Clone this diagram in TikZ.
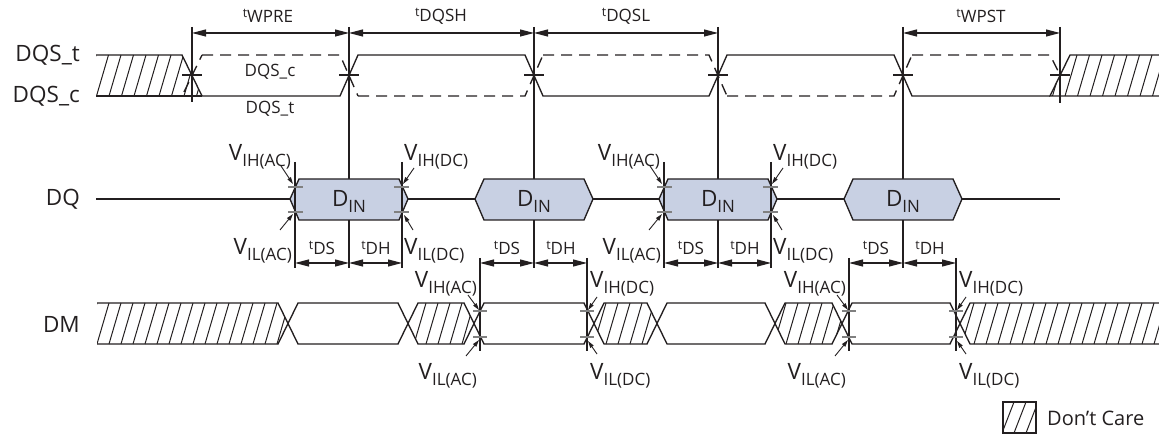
\documentclass[tikz,border=0pt]{standalone}
\usepackage{fontspec}
\setmainfont{Open Sans}
\usetikzlibrary{arrows.meta}
\definecolor{lc}{HTML}{231F20}
\definecolor{boxfill}{HTML}{C8D0E3}
\definecolor{tickgray}{HTML}{808080}
\newcommand{\bigfs}{\fontsize{22.5}{24}\selectfont}
\newcommand{\midfs}{\fontsize{17}{19}\selectfont}
\newcommand{\supfs}{\fontsize{12.5}{14}\selectfont}
\newcommand{\vsub}[1]{{\bigfs V\raisebox{-6pt}{\midfs #1}}}
\newcommand{\tsup}[1]{{\raisebox{5pt}{\supfs t}\midfs #1}}
\newcommand{\dinlab}{{\bigfs D\raisebox{-6pt}{\midfs IN}}}
\tikzset{
  sig/.style={draw=lc, line width=1.35pt, line join=miter},
  dsig/.style={sig, dash pattern=on 11pt off 7pt},
  guide/.style={draw=lc, line width=1.1pt},
  dim/.style={draw=lc, line width=1.1pt, {Triangle[length=14pt,width=7pt]}-{Triangle[length=14pt,width=7pt]}},
  ptr/.style={draw=lc, line width=0.9pt, -{Triangle[length=7pt,width=4pt]}},
  hatchl/.style={draw=lc, line width=1pt},
  lvl/.style={draw=tickgray, line width=1.1pt},
  lbl/.style={inner sep=0pt, text=lc},
  dinbox/.style={sig, fill=boxfill},
  crs/.style={draw=lc, line width=1.1pt},
}
\begin{document}
\begin{tikzpicture}[x=1pt,y=-1pt]
\useasboundingbox (0,0) rectangle (1159,438);

% ---------- signal names ----------
\node[lbl, anchor=east] (nDQSt) at (80,55) {\bigfs DQS\_t};
\node[lbl, anchor=east] (nDQSc) at (80,96) {\bigfs DQS\_c};
\node[lbl, anchor=east] (nDQ) at (80,199) {\bigfs DQ};
\node[lbl, anchor=east] (nDM) at (80,324) {\bigfs DM};

% ---------- DQS ----------
\begin{scope}
  \clip (96,55) -- (182,55) -- (202,96) -- (96,96) -- cycle;
  \foreach \x in {84,96.5,...,210} \draw[hatchl] (\x,96) -- ++(12,-41);
\end{scope}
\draw[sig] (96,55) -- (182,55) -- (202,96);
\draw[sig] (96,96) -- (202,96);
\begin{scope}
  \clip (1070,55) -- (1159,55) -- (1159,96) -- (1050,96) -- cycle;
  \foreach \x in {1040,1052.5,...,1170} \draw[hatchl] (\x,96) -- ++(12,-41);
\end{scope}
\draw[sig] (1159,55) -- (1070,55) -- (1050,96) -- (1159,96);
% DQS_t (solid)
\draw[sig] (202,96) -- (340,96) -- (358,55) -- (525,55) -- (543,96) -- (709,96)
  -- (727,55) -- (894,55) -- (912,96) -- (1050,96);
% DQS_c (dashed)
\draw[dsig] (184,92) -- (202,55);
\draw[dsig] (202,55) -- (340,55) -- (358,96);
\draw[dsig] (358,96) -- (525,96) -- (543,55);
\draw[dsig] (543,55) -- (709,55) -- (727,96);
\draw[dsig] (727,96) -- (894,96) -- (912,55);
\draw[dsig] (912,55) -- (1050,55) -- (1058,71);
\node[lbl] (lc1) at (270,72) {\midfs DQS\_c};
\node[lbl] (lt1) at (270,109) {\midfs DQS\_t};
\foreach \x in {192,349,534,718,903,1060} \draw[crs] (\x-10,75) -- (\x+10,75);

% ---------- guides ----------
\draw[guide] (192,27) -- (192,102);
\draw[guide] (1060,27) -- (1060,103);
\foreach \x in {349,534,718,903} \draw[guide] (\x,27) -- (\x,268);

\coordinate (a0) at (192,33);
\coordinate (a1) at (349,33);
\coordinate (a2) at (534,33);
\coordinate (a3) at (718,33);
\coordinate (a4) at (903,33);
\coordinate (a5) at (1060,33);
\draw[dim] (a0) -- (a1);
\draw[dim] (a1) -- (a2);
\draw[dim] (a2) -- (a3);
\draw[dim] (a4) -- (a5);
\node[lbl] (twpre) at (268,16) {\tsup{WPRE}};
\node[lbl] (tdqsh) at (441,16) {\tsup{DQSH}};
\node[lbl] (tdqsl) at (626,16) {\tsup{DQSL}};
\node[lbl] (twpst) at (981,16) {\tsup{WPST}};

% ---------- DQ ----------
\draw[sig] (96,199) -- (1060,199);
\foreach \c in {349,534,718,903} {
  \draw[dinbox] (\c-59,199) -- (\c-50,179) -- (\c+50,179) -- (\c+59,199) -- (\c+50,220) -- (\c-50,220) -- cycle;
  \node[lbl] (din\c) at (\c,201) {\dinlab};
}
\foreach \c in {349,718} {
  \draw[guide] (\c-54,162) -- (\c-54,268);
  \draw[guide] (\c+53,162) -- (\c+53,268);
  \draw[lvl] (\c-61,187) -- (\c-46,187);
  \draw[lvl] (\c-61,212) -- (\c-46,212);
  \draw[lvl] (\c+45,187) -- (\c+60,187);
  \draw[lvl] (\c+45,212) -- (\c+60,212);
  \draw[dim] (\c-54,263) -- (\c,263);
  \draw[dim] (\c,263) -- (\c+53,263);
  \node[lbl] (ds\c) at (\c-27,248) {\tsup{DS}};
  \node[lbl] (dh\c) at (\c+27,248) {\tsup{DH}};
  \node[lbl, anchor=east] (vihac\c) at (\c-58,157) {\vsub{IH(AC)}};
  \node[lbl, anchor=east] (vilac\c) at (\c-57,251) {\vsub{IL(AC)}};
  \node[lbl, anchor=west] (vihdc\c) at (\c+55,157) {\vsub{IH(DC)}};
  \node[lbl, anchor=west] (vildc\c) at (\c+55,251) {\vsub{IL(DC)}};
  \draw[ptr] (\c-68,166) -- (\c-56,184);
  \draw[ptr] (\c-69,230) -- (\c-56,214);
  \draw[ptr] (\c+65,168) -- (\c+54,184);
  \draw[ptr] (\c+64,230) -- (\c+55,215);
}

% ---------- DM ----------
\begin{scope}
  \clip (97,303) -- (278,303) -- (288,323.5) -- (278,344) -- (97,344) -- cycle;
  \foreach \x in {85,97,...,300} \draw[hatchl] (\x,344) -- ++(12,-41);
\end{scope}
\draw[sig] (97,303) -- (278,303) -- (298,344) -- (398,344) -- (418,303) -- (464,303) -- (484,344) -- (584,344) -- (604,303) -- (647,303) -- (667,344) -- (765,344) -- (785,303) -- (832,303) -- (852,344) -- (950,344) -- (970,303) -- (1159,303);
\draw[sig] (97,344) -- (278,344) -- (298,303) -- (398,303) -- (418,344) -- (464,344) -- (484,303) -- (584,303) -- (604,344) -- (647,344) -- (667,303) -- (765,303) -- (785,344) -- (832,344) -- (852,303) -- (950,303) -- (970,344) -- (1159,344);
\foreach \a/\b in {408/474, 594/657, 775/842} {
  \begin{scope}
    \clip (\a,323.5) -- (\a+10,303) -- (\b-10,303) -- (\b,323.5) -- (\b-10,344) -- (\a+10,344) -- cycle;
    \foreach \x in {390,402,...,860} \draw[hatchl] (\x,344) -- ++(12,-41);
  \end{scope}
}
\begin{scope}
  \clip (960,323.5) -- (970,303) -- (1159,303) -- (1159,344) -- (970,344) -- cycle;
  \foreach \x in {950,962,...,1170} \draw[hatchl] (\x,344) -- ++(12,-41);
\end{scope}

\foreach \c in {534,903} {
  \draw[guide] (\c-54,258) -- (\c-54,351);
  \draw[guide] (\c+53,258) -- (\c+53,351);
  \draw[lvl] (\c-61,311) -- (\c-47,311);
  \draw[lvl] (\c-61,337) -- (\c-47,337);
  \draw[lvl] (\c+46,311) -- (\c+60,311);
  \draw[lvl] (\c+46,337) -- (\c+60,337);
  \draw[dim] (\c-54,263) -- (\c,263);
  \draw[dim] (\c,263) -- (\c+53,263);
  \node[lbl] (dsm\c) at (\c-27,248) {\tsup{DS}};
  \node[lbl] (dhm\c) at (\c+27,248) {\tsup{DH}};
  \node[lbl, anchor=east] (mvihac\c) at (\c-57,284) {\vsub{IH(AC)}};
  \node[lbl, anchor=east] (mvilac\c) at (\c-57,376) {\vsub{IL(AC)}};
  \node[lbl, anchor=west] (mvihdc\c) at (\c+56,284) {\vsub{IH(DC)}};
  \node[lbl, anchor=west] (mvildc\c) at (\c+56,376) {\vsub{IL(DC)}};
  \draw[ptr] (\c-66,295) -- (\c-55,310);
  \draw[ptr] (\c-68,356) -- (\c-55,340);
  \draw[ptr] (\c+63,297) -- (\c+54,310);
  \draw[ptr] (\c+63,354) -- (\c+54,341);
}

% ---------- legend ----------
\begin{scope}
  \clip (1003,402) rectangle (1036,433);
  \foreach \x in {990,1002,...,1040} \draw[hatchl] (\x,433) -- ++(12,-31);
\end{scope}
\draw[sig] (1003,402) rectangle (1036,433);
\node[lbl, anchor=west] (legend) at (1047,418) {\fontsize{20}{22}\selectfont Don’t Care};
\end{tikzpicture}
\end{document}
